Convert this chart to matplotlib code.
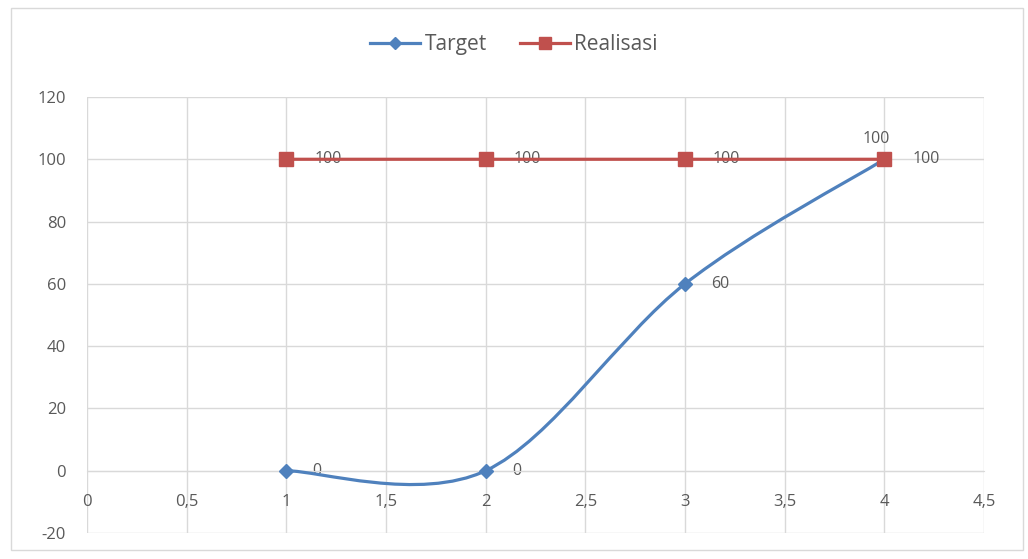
import matplotlib
matplotlib.use('Agg')
import matplotlib.pyplot as plt
from matplotlib.path import Path
from matplotlib.patches import PathPatch, Rectangle
from matplotlib.lines import Line2D
from matplotlib.ticker import FuncFormatter
import numpy as np

x_vals = [1, 2, 3, 4]
target = [0, 0, 60, 100]
realisasi = [100, 100, 100, 100]
x_ticks = [0, 0.5, 1, 1.5, 2, 2.5, 3, 3.5, 4, 4.5]
y_ticks = [-20, 0, 20, 40, 60, 80, 100, 120]

BLUE = '#4F81BD'
RED = '#C0504D'
GREY_TXT = '#595959'
GRID = '#d9d9d9'

plt.rcParams['font.family'] = ['Open Sans', 'DejaVu Sans']
plt.rcParams['axes.unicode_minus'] = False


def smooth_path(xs, ys):
    # Excel-like smoothed line: cubic bezier with catmull-rom style control points
    pts = np.column_stack([xs, ys]).astype(float)
    n = len(pts)
    verts = [pts[0]]
    codes = [Path.MOVETO]
    for i in range(n - 1):
        p0 = pts[i - 1] if i > 0 else pts[i]
        p1 = pts[i]
        p2 = pts[i + 1]
        p3 = pts[i + 2] if i + 2 < n else pts[i + 1]
        c1 = p1 + (p2 - p0) / 6
        c2 = p2 - (p3 - p1) / 6
        verts += [c1, c2, p2]
        codes += [Path.CURVE4] * 3
    return Path(verts, codes)


fig = plt.figure(figsize=(10.28, 5.59), dpi=100)
fig.patches.append(Rectangle((0.011, 0.016), 0.984, 0.97, transform=fig.transFigure,
                             fill=False, edgecolor=GRID, linewidth=1))
ax = fig.add_axes([0.0846, 0.0465, 0.8726, 0.780])

ax.set_xlim(0, 4.5)
ax.set_ylim(-20, 120)
ax.set_xticks(x_ticks)
ax.set_yticks(y_ticks)
ax.grid(True, color=GRID, linewidth=1)
ax.set_axisbelow(True)
for s in ['top', 'right', 'left']:
    ax.spines[s].set_visible(False)
ax.spines['bottom'].set_position(('data', 0))
ax.spines['bottom'].set_color(GRID)
ax.tick_params(axis='both', length=0, colors=GREY_TXT, labelsize=12)
ax.tick_params(axis='x', pad=17)
ax.tick_params(axis='y', pad=15)
ax.xaxis.set_major_formatter(FuncFormatter(lambda v, p: ('%g' % v).replace('.', ',')))

ax.add_patch(PathPatch(smooth_path(x_vals, target), facecolor='none', edgecolor=BLUE,
                       linewidth=2.3, zorder=3, capstyle='round'))
ax.add_patch(PathPatch(smooth_path(x_vals, realisasi), facecolor='none', edgecolor=RED,
                       linewidth=2.3, zorder=4, capstyle='round'))
ax.plot(x_vals, target, linestyle='none', marker='D', markersize=7, color=BLUE, zorder=5)
ax.plot(x_vals, realisasi, linestyle='none', marker='s', markersize=10, color=RED, zorder=6)

for i, (xv, yv) in enumerate(zip(x_vals, target)):
    if i == len(x_vals) - 1:
        ax.annotate(str(yv), (xv, yv), xytext=(-6, 9), textcoords='offset points',
                    ha='center', va='bottom', fontsize=11.5, color=GREY_TXT, zorder=2)
    else:
        ax.annotate(str(yv), (xv, yv), xytext=(19, 0), textcoords='offset points',
                    ha='left', va='center', fontsize=11.5, color=GREY_TXT, zorder=2)
for xv, yv in zip(x_vals, realisasi):
    ax.annotate(str(yv), (xv, yv), xytext=(20, 0), textcoords='offset points',
                ha='left', va='center', fontsize=11.5, color=GREY_TXT, zorder=2)

handles = [Line2D([], [], color=BLUE, linewidth=2.3, marker='D', markersize=6),
           Line2D([], [], color=RED, linewidth=2.3, marker='s', markersize=9)]
fig.legend(handles, ['Target', 'Realisasi'], loc='center', bbox_to_anchor=(0.5, 0.92),
           ncol=2, frameon=False, fontsize=15, handlelength=2.4, handletextpad=0.2,
           columnspacing=1.6, labelcolor=GREY_TXT)

fig.savefig('out.png', dpi=100)
